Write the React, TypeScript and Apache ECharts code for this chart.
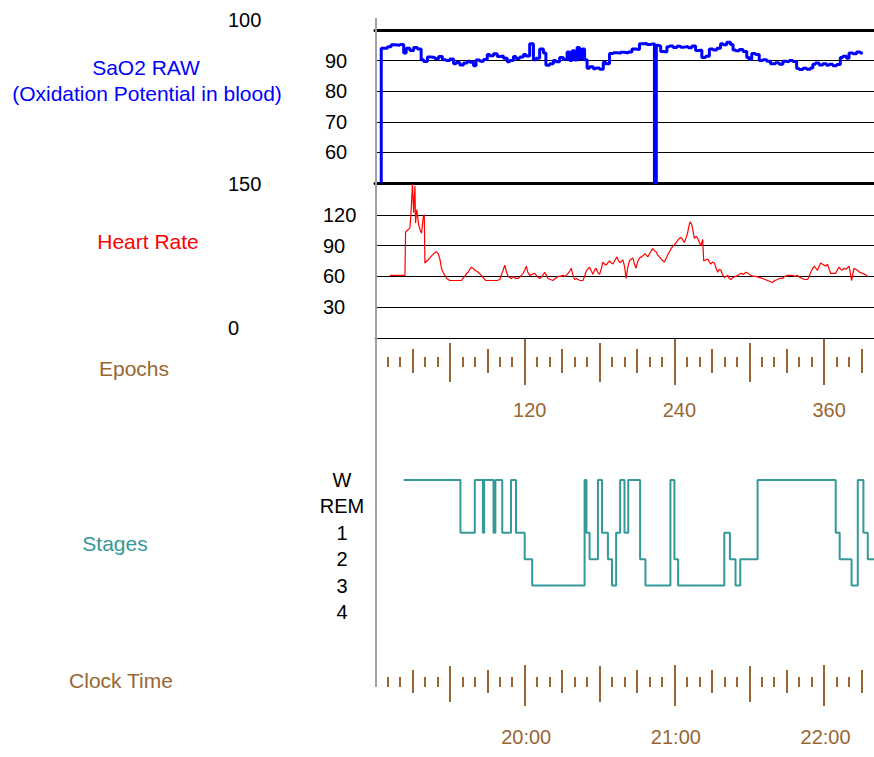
import React, { useEffect, useRef } from "react";
import * as echarts from "echarts";

// ---------- data ----------
const X_MAX = 400; // epochs shown across the plot width

// SaO2 raw (%) as [epoch, value]
const SAO2: [number, number][] = [
  [5, 50], [6, 94], [10, 94], [13, 94.5], [16, 95.2], [20, 95], [23, 95.3], [25, 92.5], [28, 94], [31, 93.3],
  [34, 94.3], [37, 93.8], [39, 90.3], [42, 89.7], [45, 91.2], [48, 91], [51, 90.6], [54, 91.3], [57, 90.3],
  [60, 90], [63, 90.5], [65, 89], [68, 89.4], [71, 88.6], [74, 89.2], [76, 89.8], [79, 89.5], [81, 88.3],
  [84, 90.2], [87, 89.8], [90, 90.4], [92, 92], [95, 91.6], [98, 92.2], [100, 91.3], [103, 91.5], [106, 90.8],
  [108, 89.6], [111, 90], [113, 91.3], [116, 90.7], [119, 91.2], [121, 92], [124, 91.5], [127, 95.5], [129, 90.3],
  [132, 90.8], [135, 93.8], [137, 92.5], [140, 88.5], [143, 89], [145, 90], [148, 89.6], [151, 91], [154, 90.4],
  [156, 92.8], [158, 90], [160, 93.2], [162, 90.2], [164, 94.3], [166, 90.5], [168, 93.8], [170, 90.3],
  [172, 87.5], [175, 88], [177, 87.3], [180, 87.6], [183, 87.2], [185, 89.5], [188, 89], [191, 92.3],
  [194, 92.6], [197, 92.4], [200, 92.7], [203, 92.5], [206, 92.8], [209, 93.8], [212, 93.6], [215, 95.5],
  [218, 95.6], [221, 95.3], [224, 95.5], [225.5, 50], [226.5, 95], [229, 94.8], [231, 93], [234, 92.8],
  [236, 94.5], [239, 94.8], [242, 94.3], [245, 94.7], [248, 94.4], [251, 94.6], [254, 94.2], [257, 94.8],
  [260, 93.3], [262, 93.5], [265, 91], [268, 91.4], [271, 93.8], [274, 93.5], [277, 94], [279, 95.5],
  [282, 95.2], [285, 96], [287, 95.3], [289, 93.5], [292, 93.2], [295, 93.6], [298, 93], [300, 91],
  [302, 90.4], [305, 92.3], [308, 92], [311, 90], [314, 90.3], [317, 89.8], [321, 89], [324, 89.3],
  [327, 88.8], [329, 89.8], [332, 89.6], [335, 90], [338, 89.7], [340, 87.4], [343, 87.1], [346, 87.5],
  [349, 87.2], [351, 87.6], [353, 88.8], [356, 89.2], [359, 88.6], [362, 89], [364, 88.5], [367, 88.8],
  [370, 88.3], [373, 88.7], [375, 91], [378, 91.4], [380, 90.8], [383, 92.5], [386, 92.2], [389, 92.8],
  [391, 92.5],
];

// Heart rate (bpm) as [epoch, value]
const HEART_RATE: [number, number][] = [
  [12, 61], [16, 61], [20, 61], [24, 61], [24.5, 103], [26, 105], [28, 107], [29, 125], [30, 150], [31, 122],
  [32, 148], [32.5, 112], [33.5, 125], [35, 110], [36, 106], [37.3, 102], [38.7, 118], [39.5, 120], [40, 73],
  [41.5, 75], [42.7, 76], [44, 78], [45.3, 80], [47, 82], [48, 83], [49.5, 84], [50.7, 82], [52, 77],
  [53.3, 68], [54.5, 64], [56, 61], [57.5, 58], [58.7, 57], [60, 56], [62.7, 56], [66, 56], [69.3, 56],
  [70.5, 58], [72, 60], [73.5, 63], [74.7, 64], [76, 67], [77.3, 69], [78.5, 68], [80, 66], [81.5, 65],
  [82.7, 64], [84.5, 62], [86.7, 59], [88, 57], [89, 56], [92, 56], [95, 56], [98, 56], [100, 57],
  [101.5, 62], [102.7, 66], [104, 71], [105.5, 64], [106.7, 60], [108, 59], [109.3, 58], [111, 60],
  [112.5, 58], [114.7, 58], [116.5, 60], [118.7, 63], [120, 66], [121.3, 70], [122.5, 64], [124, 61],
  [126, 62], [128, 63], [130, 60], [132, 58], [134, 60], [136, 64], [137.5, 61], [138.7, 58], [140.5, 57],
  [142.7, 56], [144.5, 58], [146.7, 60], [148.5, 60], [150.7, 61], [152.5, 60], [154.7, 63], [156, 65],
  [157.3, 68], [158.5, 62], [160, 57], [161.5, 58], [162.7, 57], [164.5, 56], [166.7, 56], [168, 60],
  [169.3, 65], [170.5, 67], [172, 69], [173.5, 65], [174.7, 62], [176, 66], [177.3, 68], [178.5, 64],
  [180, 62], [181.5, 68], [182.7, 74], [184, 72], [185.3, 71], [186.5, 73], [188, 75], [189.5, 73],
  [190.7, 72], [192.5, 76], [193.9, 79], [195, 76], [196.5, 73], [197.5, 75], [198.7, 76], [200, 70],
  [201.3, 58], [202.5, 68], [204, 75], [205.5, 77], [206.7, 78], [208, 72], [209.3, 68], [210.5, 74],
  [212, 78], [213.5, 79], [214.7, 80], [216.5, 82], [218.7, 79], [220.5, 83], [222.7, 87], [224, 85],
  [225.3, 84], [226.5, 81], [228, 79], [230, 76], [232, 74], [233.5, 78], [234.7, 81], [236, 84],
  [237.3, 87], [238.5, 89], [240, 91], [241.5, 93], [242.7, 95], [244, 97], [245.3, 98], [246.5, 96],
  [248, 93], [249.5, 98], [250.7, 103], [251.5, 108], [252.5, 113], [253.3, 112], [254, 110], [255, 104],
  [256, 97], [257.5, 99], [258.7, 97], [260, 93], [261.3, 90], [262, 93], [262.7, 96], [263.5, 75],
  [265, 76], [266.7, 77], [268, 74], [269.3, 72], [270.5, 74], [272, 73], [273.5, 68], [274.7, 64],
  [276, 67], [277.3, 66], [278.5, 62], [280, 59], [281.5, 60], [282.7, 61], [284, 58], [285.3, 57],
  [287, 59], [289.3, 60], [291, 61], [293.3, 63], [295.5, 62], [297.3, 64], [299, 63], [301.3, 61],
  [303, 60], [305.3, 60], [308, 59], [310.7, 58], [312.5, 57], [314.7, 56], [316.5, 55], [318.7, 54],
  [320.5, 56], [322.7, 57], [324.5, 58], [326.7, 58], [328.5, 60], [330.7, 61], [332.5, 61], [334.7, 61],
  [336.5, 60], [338.7, 61], [340.5, 59], [342.7, 58], [344.5, 57], [346.7, 57], [348, 60], [349.3, 64],
  [350.5, 67], [352, 70], [353.3, 68], [354.7, 66], [356, 70], [357.3, 73], [358.5, 72], [360, 71],
  [361.3, 70], [362.7, 72], [364, 67], [365.3, 63], [367, 63], [369.3, 63], [370.5, 66], [372, 69],
  [373.3, 67], [374.7, 66], [376, 68], [377.3, 67], [378.5, 68], [380, 70], [381, 64], [382, 56],
  [383, 62], [384, 68], [385.3, 67], [386.7, 66], [388.5, 64], [390.7, 63], [392.5, 62], [395, 60],
];

// Sleep stages: level names (top to bottom) and scored segments
const STAGE_LEVELS = ["W", "REM", "1", "2", "3", "4"];
const STAGE_START = [
  23, 68.5, 80, 86.5, 87.5, 95, 96.5, 102, 109, 113, 120, 126, 168, 169.5, 172, 178.7, 182, 186.7, 190,
  193.3, 196.5, 200, 203, 212.5, 216.8, 236.8, 240, 243, 280, 284.5, 289, 292.8, 306.7, 369.3, 372.5,
  382, 387, 391.5, 395, 401,
];
const STAGE_CODE = [
  "W", "1", "W", "1", "W", "1", "W", "1", "W", "1", "2", "3", "W", "1", "2", "W", "1", "2", "3",
  "1", "W", "1", "W", "2", "3", "W", "2", "3", "1", "2", "3", "2", "W", "1", "2",
  "3", "W", "1", "2", "2",
];

// Axis ticks / labels
const SAO2_RANGE = [50, 100];
const HR_RANGE = [0, 150];
const EPOCH_LABEL_TICKS = [120, 240, 360];
const CLOCK_LABELS = ["20:00", "21:00", "22:00"];

// ---------- styles ----------
const FONT = "'Liberation Sans', Arial, sans-serif";
const BLUE = "#0000FF";
const RED = "#FF0000";
const BROWN = "#996633";
const TEAL = "#339999";
const LEFT = 375;
const WIDTH = 500;

const multiples = (step: number) => {
  const out: number[] = [];
  for (let v = step; v < X_MAX; v += step) out.push(v);
  return out;
};

const tickAxis = (gridIndex: number, step: number, offset: number, length: number, label?: any) => ({
  type: "value",
  gridIndex,
  position: "bottom",
  offset,
  min: 0,
  max: X_MAX,
  interval: step,
  axisLine: { show: false, onZero: false },
  splitLine: { show: false },
  axisTick: {
    show: true,
    inside: false,
    length,
    customValues: multiples(step),
    lineStyle: { color: BROWN, width: 2 },
  },
  axisLabel: label ? label : { show: false },
});

const plainX = (gridIndex: number, extra: any = {}) => ({
  type: "value",
  gridIndex,
  min: 0,
  max: X_MAX,
  axisTick: { show: false },
  axisLabel: { show: false },
  splitLine: { show: false },
  ...extra,
});

export default function App() {
  const ref = useRef<HTMLDivElement>(null);

  useEffect(() => {
    if (!ref.current) return;
    const chart = echarts.init(ref.current, undefined, { renderer: "svg" });

    const numLabel = { color: "#000", fontFamily: FONT, fontSize: 20 };
    const titleFont = `21px ${FONT}`;

    const stageData = STAGE_START.map((s, i) => [s, STAGE_CODE[i]]);

    chart.setOption({
      animation: false,
      backgroundColor: "#fff",
      grid: [
        { left: LEFT, width: WIDTH, top: 30, height: 153 }, // SaO2
        { left: LEFT, width: WIDTH, top: 184, height: 154 }, // Heart rate
        { left: LEFT, width: WIDTH, top: 329, height: 1 }, // epoch ticks
        { left: LEFT, width: WIDTH, top: 480, height: 132 }, // stages
        { left: LEFT, width: WIDTH, top: 650, height: 1 }, // clock ticks
      ],
      xAxis: [
        plainX(0, { position: "bottom", axisLine: { show: true, onZero: false, lineStyle: { color: "#000", width: 3 } } }),
        plainX(0, { position: "top", axisLine: { show: true, onZero: false, lineStyle: { color: "#000", width: 3 } } }),
        plainX(1, { position: "bottom", axisLine: { show: true, onZero: false, lineStyle: { color: "#000", width: 1 } } }),
        tickAxis(2, 10, 27, 10),
        tickAxis(2, 30, 19, 24),
        tickAxis(2, 60, 13, 39),
        tickAxis(2, 120, 9, 46, {
          show: true,
          customValues: EPOCH_LABEL_TICKS,
          formatter: (v: number) => (EPOCH_LABEL_TICKS.includes(v) ? String(v) : ""),
          margin: 61,
          color: BROWN,
          fontFamily: FONT,
          fontSize: 20,
          padding: [0, 0, 0, 10],
        }),
        plainX(3, { show: false }),
        tickAxis(4, 10, 26, 10),
        tickAxis(4, 30, 19, 23),
        tickAxis(4, 60, 15, 36),
        tickAxis(4, 120, 14, 41, {
          show: true,
          customValues: EPOCH_LABEL_TICKS,
          formatter: (v: number) => {
            const i = EPOCH_LABEL_TICKS.indexOf(v);
            return i >= 0 ? CLOCK_LABELS[i] : "";
          },
          margin: 62,
          color: BROWN,
          fontFamily: FONT,
          fontSize: 20,
          padding: [0, 0, 0, 3],
        }),
      ],
      yAxis: [
        {
          type: "value",
          gridIndex: 0,
          position: "left",
          min: SAO2_RANGE[0],
          max: SAO2_RANGE[1],
          interval: 10,
          axisLine: { show: false },
          axisTick: { show: false },
          splitLine: { show: true, lineStyle: { color: "#000", width: 1 } },
          axisLabel: { ...numLabel, align: "left", margin: 50, showMinLabel: false, showMaxLabel: false },
        },
        {
          type: "value",
          gridIndex: 0,
          position: "left",
          min: SAO2_RANGE[0],
          max: SAO2_RANGE[1],
          interval: 50,
          axisLine: { show: false },
          axisTick: { show: false },
          splitLine: { show: false },
          axisLabel: {
            ...numLabel,
            align: "left",
            verticalAlign: "bottom",
            margin: 147,
            formatter: (v: number) => (v === SAO2_RANGE[1] ? String(v) : ""),
          },
        },
        {
          type: "value",
          gridIndex: 1,
          position: "left",
          min: HR_RANGE[0],
          max: HR_RANGE[1],
          interval: 30,
          axisLine: { show: false },
          axisTick: { show: false },
          splitLine: { show: true, lineStyle: { color: "#000", width: 1 } },
          axisLabel: { ...numLabel, align: "left", margin: 52, showMinLabel: false, showMaxLabel: false },
        },
        {
          type: "value",
          gridIndex: 1,
          position: "left",
          min: HR_RANGE[0],
          max: HR_RANGE[1],
          interval: 150,
          axisLine: { show: false },
          axisTick: { show: false },
          splitLine: { show: false },
          axisLabel: {
            ...numLabel,
            align: "left",
            margin: 147,
            formatter: (v: number) => (v === HR_RANGE[1] ? String(v) : ""),
          },
        },
        {
          type: "value",
          gridIndex: 1,
          position: "left",
          min: HR_RANGE[0],
          max: HR_RANGE[1],
          interval: 150,
          axisLine: { show: false },
          axisTick: { show: false },
          splitLine: { show: false },
          axisLabel: {
            ...numLabel,
            align: "left",
            verticalAlign: "bottom",
            margin: 147,
            formatter: (v: number) => (v === HR_RANGE[0] ? String(v) : ""),
          },
        },
        { type: "value", gridIndex: 2, show: false },
        {
          type: "category",
          gridIndex: 3,
          position: "left",
          data: STAGE_LEVELS,
          inverse: true,
          boundaryGap: false,
          axisLine: { show: false },
          axisTick: { show: false },
          splitLine: { show: false },
          axisLabel: { ...numLabel, align: "center", margin: 33, interval: 0 },
        },
        { type: "value", gridIndex: 4, show: false },
      ],
      series: [
        {
          name: "SaO2 RAW",
          type: "line",
          xAxisIndex: 0,
          yAxisIndex: 0,
          step: "start",
          showSymbol: false,
          data: SAO2,
          lineStyle: { color: BLUE, width: 3 },
          z: 5,
        },
        {
          name: "Heart Rate",
          type: "line",
          xAxisIndex: 2,
          yAxisIndex: 2,
          showSymbol: false,
          data: HEART_RATE,
          lineStyle: { color: RED, width: 1.2 },
          z: 5,
        },
        {
          name: "Stages",
          type: "line",
          xAxisIndex: 7,
          yAxisIndex: 6,
          step: "start",
          showSymbol: false,
          data: stageData,
          lineStyle: { color: TEAL, width: 2 },
          z: 5,
        },
      ],
      graphic: [
        {
          type: "line",
          shape: { x1: 376, y1: 18, x2: 376, y2: 687 },
          style: { stroke: "#A0A0A0", lineWidth: 2 },
          z: 100,
        },
        { type: "text", x: 146, y: 67, style: { text: "SaO2 RAW", fill: BLUE, font: titleFont, align: "center", verticalAlign: "middle" } },
        { type: "text", x: 147, y: 93, style: { text: "(Oxidation Potential in blood)", fill: BLUE, font: titleFont, align: "center", verticalAlign: "middle" } },
        { type: "text", x: 148, y: 241, style: { text: "Heart Rate", fill: RED, font: titleFont, align: "center", verticalAlign: "middle" } },
        { type: "text", x: 134, y: 368, style: { text: "Epochs", fill: BROWN, font: titleFont, align: "center", verticalAlign: "middle" } },
        { type: "text", x: 115, y: 543, style: { text: "Stages", fill: TEAL, font: titleFont, align: "center", verticalAlign: "middle" } },
        { type: "text", x: 121, y: 680, style: { text: "Clock Time", fill: BROWN, font: titleFont, align: "center", verticalAlign: "middle" } },
      ],
    });

    return () => chart.dispose();
  }, []);

  return (
    <div
      ref={ref}
      style={{ position: "absolute", left: 0, top: 0, width: 874, height: 757, background: "#fff" }}
    />
  );
}
